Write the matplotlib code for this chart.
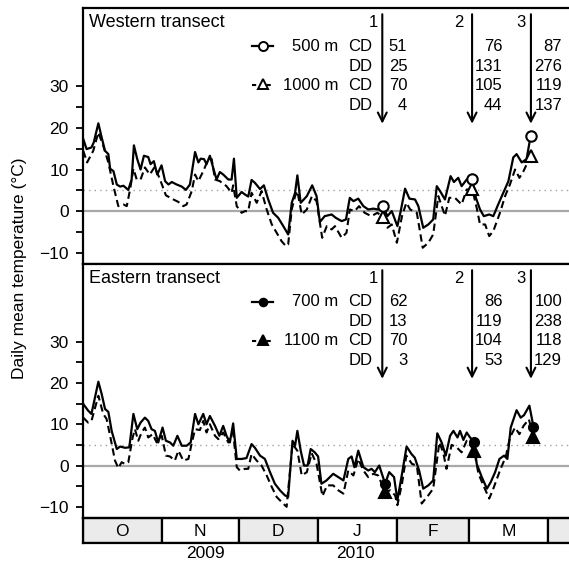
import numpy as np
import matplotlib
matplotlib.use('Agg')
import matplotlib.pyplot as plt
from matplotlib.patches import Rectangle

plt.rcParams['font.family'] = ['Liberation Sans', 'DejaVu Sans']

# days since 1 Oct 2009 and daily mean temperature (deg C)
w500_day = [0.3, 1.6, 3.5, 4.4, 6.2, 7.5, 8.8, 10.1, 10.8, 12.1, 13.4, 14.7, 16.0, 17.9, 19.2, 20.1, 21.4, 22.7,
            24.0, 25.7, 26.6, 27.9, 29.2, 30.9, 32.3, 33.6, 34.9, 36.8, 38.8, 40.4, 42.0, 44.0, 45.3, 46.2, 47.5,
            48.5, 49.8, 51.1, 52.4, 53.7, 55.0, 57.0, 58.3, 59.2, 60.3, 62.2, 63.5, 64.8, 66.1, 67.4, 69.4, 70.9,
            72.6, 74.5, 76.5, 78.5, 80.4, 81.8, 83.1, 84.0, 85.3, 87.7, 89.8, 91.5, 92.8, 94.7, 97.4, 99.0, 101.3,
            103.0, 104.5, 105.9, 107.8, 109.8, 111.7, 113.7, 115.6, 117.4, 119.2, 120.9, 123.1, 124.4, 126.1,
            127.8, 130.0, 131.3, 133.2, 135.2, 137.1, 138.5, 139.8, 141.7, 143.9, 145.2, 146.9, 148.2, 150.2,
            152.4, 153.8, 155.4, 156.9, 159.0, 160.6, 162.5, 164.5, 166.5, 168.4, 169.7, 171.7, 173.6, 175.2]
w500_temp = [17.3, 14.9, 15.3, 16.5, 21.1, 17.7, 14.5, 13.7, 10.2, 9.6, 6.4, 5.9, 6.1, 5.1, 7.6, 15.8, 12.5, 10.0,
             13.3, 13.0, 11.3, 12.0, 8.8, 11.0, 7.2, 6.4, 7.0, 6.4, 5.9, 5.1, 6.4, 14.2, 11.7, 12.6, 12.5,
             11.3, 13.3, 10.4, 7.6, 9.4, 8.8, 7.6, 7.6, 12.6, 3.2, 4.6, 4.0, 3.5, 7.5, 6.8, 5.3, 6.2,
             2.8, -0.4, -1.6, -3.6, -5.6, 2.0, 4.4, 8.6, 2.0, 3.6, 6.2, 3.6, -2.6, -1.2, -0.8, -1.6, -2.4,
             -2.0, 3.2, 2.4, 3.0, 1.2, 0.4, 0.6, 0.4, 1.2, -1.2, 0.0, -3.6, 0.0, 5.4,
             3.0, 2.8, 1.2, -4.0, -3.2, -2.0, 6.0, 4.8, 2.8, 8.4, 7.0, 8.0, 6.0, 7.6,
             7.8, 3.2, 0.4, -1.2, -0.8, -1.2, 1.6, 4.4, 7.2, 12.9, 13.7, 11.7, 12.5, 18.1]

w1000_day = [0.3, 1.8, 4.2, 6.2, 8.1, 10.1, 12.1, 14.0, 16.0, 17.3, 18.6, 19.9, 21.2, 22.7, 24.4, 26.3, 28.2, 30.2,
             32.6, 34.9, 37.5, 39.4, 40.7, 42.7, 44.0, 45.3, 47.2, 49.2, 50.5, 51.8, 53.7, 56.3, 58.3, 58.9,
             60.3, 62.2, 63.5, 64.8, 66.1, 68.1, 70.0, 72.0, 74.0, 75.9, 77.8, 79.5, 80.4, 81.8, 83.1, 84.0,
             85.7, 87.7, 89.7, 91.5, 93.7, 95.5, 97.4, 98.7, 101.3, 103.2, 104.5, 106.4, 108.1, 110.3, 112.9,
             115.3, 117.4, 119.2, 120.9, 122.9, 124.9, 126.6, 128.1, 130.7, 133.0, 135.2, 137.1, 139.1, 141.7,
             143.4, 145.6, 148.2, 150.2, 152.4, 154.1, 155.4, 157.4, 159.0, 160.6, 163.2, 165.2, 167.1, 169.1,
             170.8, 172.4, 175.2]
w1000_temp = [14.5, 11.7, 14.5, 18.9, 15.7, 11.7, 6.0, 1.2, 1.6, 1.2, 5.2, 10.2, 7.6, 7.6, 10.5, 8.8, 10.6, 7.8,
              3.8, 3.0, 2.2, 1.2, 1.6, 4.8, 8.8, 7.2, 9.6, 12.5, 12.5, 7.6, 7.2, 6.0, 4.4, 6.2,
              1.2, -0.4, 0.0, 0.0, 4.4, 2.0, 4.8, 0.4, -3.2, -5.2, -7.2, -8.4, -8.0, 0.4, 3.6, 4.8,
              -0.8, 0.4, 3.6, 2.4, -6.4, -3.6, -4.4, -3.6, -6.4, -5.2, 0.4, 0.0, 1.2, -0.4, -1.2,
              -0.4, -1.4, -4.0, -3.2, -7.6, -1.2, 2.0, 0.4, -0.4, -8.8, -7.6, -5.6, 3.6, -1.1,
              3.2, 3.2, 1.6, 5.2, 5.2, 0.8, -3.2, -3.2, -6.0, -4.8, -0.4, 3.6, 6.4, 10.0,
              8.0, 9.6, 13.3]

e700_day = [0.3, 2.2, 3.5, 6.2, 7.5, 8.8, 10.1, 11.4, 13.4, 14.7, 16.6, 18.3, 19.9, 21.4, 22.7, 24.4, 25.7, 27.0,
            28.3, 29.6, 31.3, 32.6, 34.2, 35.5, 37.1, 38.8, 40.7, 42.3, 44.0, 45.3, 47.2, 48.5, 49.8, 51.8,
            53.5, 55.0, 56.3, 57.6, 58.9, 60.3, 62.2, 64.1, 66.1, 67.4, 69.4, 71.3, 73.3, 75.2, 77.2, 79.1,
            80.4, 82.1, 83.1, 84.0, 85.3, 86.6, 88.0, 89.2, 90.8, 92.1, 93.4, 95.4, 98.0, 100.0, 102.0, 103.9,
            105.2, 106.3, 107.8, 109.8, 111.7, 113.0, 114.3, 116.0, 118.3, 119.9, 121.8, 123.1, 124.9, 126.7,
            128.6, 129.9, 131.6, 133.2, 135.2, 137.1, 138.7, 140.4, 142.0, 143.7, 145.0, 146.6, 147.6, 148.9,
            150.2, 151.5, 153.1, 154.1, 156.1, 158.1, 159.6, 161.3, 163.0, 164.8, 166.1, 167.4, 169.7, 171.3,
            172.6, 174.7, 176.3]
e700_temp = [14.9, 13.3, 12.5, 20.3, 17.3, 13.7, 13.0, 8.4, 4.0, 4.6, 4.3, 4.4, 12.5, 8.8, 10.4, 11.6, 10.8, 8.8,
             8.4, 5.6, 9.2, 6.0, 5.6, 4.8, 7.2, 4.8, 4.8, 5.6, 12.5, 10.0, 12.5, 10.0, 12.0, 9.6,
             7.2, 9.6, 7.2, 5.6, 10.2, 1.6, 1.6, 1.8, 5.2, 4.3, 2.4, 1.6, -1.6, -4.4, -6.0, -7.2,
             -7.6, 6.0, 4.8, 8.4, 3.6, 0.0, 0.0, 4.0, 3.2, 2.2, -4.4, -3.6, -2.0, -2.8, -3.6, 1.6,
             2.2, -0.4, 3.6, -0.4, -1.2, -0.8, -1.6, 0.0, -4.4, -1.6, -2.8, -8.4, -2.0, 4.6,
             2.8, 1.9, -1.2, -5.6, -4.8, -3.6, 7.8, 5.6, 2.4, 7.2, 8.4, 6.8, 8.4, 6.2,
             8.0, 6.8, 5.8, 0.4, -2.8, -5.6, -4.0, -1.6, 1.6, 2.4, 1.6, 9.2, 13.4, 11.6,
             12.2, 14.5, 9.4]

e1100_day = [0.3, 2.2, 3.5, 6.2, 8.1, 9.4, 10.8, 12.7, 14.0, 15.3, 16.6, 17.9, 19.6, 20.5, 21.8, 23.1, 24.4, 25.7,
             27.4, 29.0, 31.0, 32.6, 34.2, 36.1, 37.5, 39.4, 41.4, 42.7, 44.0, 45.9, 47.2, 48.5, 49.8, 51.8,
             53.1, 55.0, 57.0, 58.9, 60.3, 61.5, 63.5, 64.8, 66.1, 68.1, 70.0, 72.0, 74.0, 75.9, 77.8, 79.8,
             82.1, 84.0, 85.7, 87.7, 89.6, 91.5, 93.8, 95.6, 98.0, 100.0, 102.0, 103.9, 105.9, 107.8, 109.8,
             111.7, 113.7, 115.6, 118.3, 120.3, 122.2, 123.1, 124.9, 126.6, 128.8, 130.7, 132.6, 135.2, 137.1,
             139.5, 141.0, 142.3, 144.3, 146.3, 148.2, 150.2, 152.2, 153.1, 154.8, 156.7, 159.0, 160.6, 163.2,
             165.5, 167.1, 169.1, 170.8, 172.4, 174.5, 176.3]
e1100_temp = [11.6, 10.4, 10.8, 16.9, 12.5, 11.3, 7.2, 1.2, -0.6, 0.8, 0.4, 0.8, 6.8, 8.8, 6.0, 8.0, 9.2, 6.8,
              7.6, 5.6, 7.2, 2.4, 2.2, 1.2, 3.6, 1.2, 1.6, 5.4, 8.8, 8.6, 10.8, 8.0, 10.0, 7.2,
              6.4, 8.0, 5.6, 8.0, -0.4, -1.2, -0.8, -0.8, 2.8, 1.2, 0.0, -2.4, -5.2, -7.6, -8.8, -10.0,
              5.2, 3.6, -2.4, -1.6, 3.0, 0.4, -7.4, -4.8, -4.8, -6.0, -6.8, -1.2, -2.4, 1.6, -1.2,
              -2.8, -2.0, -2.4, -6.4, -6.0, -7.2, -9.6, -4.4, 2.4, 0.4, 0.0, -9.2, -7.2, -5.6,
              5.6, 3.2, -0.8, 5.0, 4.4, 3.2, 6.0, 4.4, 3.6, -2.0, -4.8, -8.0, -5.6, -1.2,
              2.2, 6.8, 9.2, 7.6, 9.6, 11.2, 7.0]

# sampling dates (arrows) and values at those dates
arrow_day = [117.2, 152.3, 175.3]
w_sample_day = [117.4, 152.4, 175.2]
w500_sample = [1.2, 7.8, 18.1]
w1000_sample = [-1.4, 5.2, 13.3]
e_sample_day = [118.3, 153.1, 176.3]
e700_sample = [-4.4, 5.8, 9.4]
e1100_sample = [-6.4, 3.6, 7.0]

# chilling / degree days table
w_sites = ['500 m', '1000 m']
e_sites = ['700 m', '1100 m']
w_table = [[51, 76, 87], [25, 131, 276], [70, 105, 119], [4, 44, 137]]
e_table = [[62, 86, 100], [13, 119, 238], [70, 104, 118], [3, 53, 129]]

months = ['O', 'N', 'D', 'J', 'F', 'M', '']
month_start = [0, 31, 61, 92, 123, 151, 182, 212]

W, H = 569, 574
fig = plt.figure(figsize=(W / 100, H / 100), dpi=100)
x0 = 82.5
xmax = (W - x0) / 2.558


def px_axes(top, bottom):
    return [x0 / W, 1 - bottom / H, 1 - x0 / W, (bottom - top) / H]


ax1 = fig.add_axes(px_axes(8, 264))
ax2 = fig.add_axes(px_axes(264, 518))
ax3 = fig.add_axes(px_axes(518, 543))

lw_sp = 1.6


def panel(ax, title, sites, table, d1, t1, d2, t2, sday, s1, s2, filled):
    ax.axhline(0, color='#a8a8a8', lw=1.6, zorder=1)
    ax.axhline(5, color='#a0a0a0', lw=1.0, ls=(0, (1, 3)), zorder=1)
    ax.plot(d1, t1, color='black', lw=1.6, zorder=3)
    ax.plot(d2, t2, color='black', lw=1.5, ls=(0, (3.5, 2)), zorder=3)
    fc = 'black' if filled else 'white'
    ms_c = 6.5 if filled else 7.5
    ax.plot(sday, s1, 'o', ms=ms_c, mfc=fc, mec='black', mew=1.5, zorder=5)
    ax.plot(sday, s2, '^', ms=9, mfc=fc, mec='black', mew=1.5, zorder=4)

    ax.set_xlim(0, xmax)
    ax.set_ylim(-12.7, 48.8)
    ax.set_yticks(np.arange(-10, 31, 5))
    ax.set_yticklabels(['\u221210', '', '0', '', '10', '', '20', '', '30'])
    ax.tick_params(axis='y', direction='out', length=5, width=1.3, labelsize=12.5, pad=5)
    ax.set_xticks([])
    for s in ['left', 'top', 'bottom']:
        ax.spines[s].set_linewidth(lw_sp)
    ax.spines['right'].set_visible(False)

    ax.text(2.5, 45.2, title, fontsize=13, va='center', ha='left')
    # arrows for the sampling dates
    lab_dx = [-1.6, -3.4, -2.0]
    for k, d in enumerate(arrow_day):
        ax.annotate('', xy=(d, 21.0), xytext=(d, 47.3),
                    arrowprops=dict(arrowstyle='->', lw=1.5, color='black', mutation_scale=16,
                                    shrinkA=0, shrinkB=0))
        ax.text(d + lab_dx[k], 45.2, str(k + 1), fontsize=12, ha='right', va='center')

    rows_y = [39.6, 34.8, 30.2, 25.4]
    kinds = ['CD', 'DD', 'CD', 'DD']
    col_x = [127.0, 164.2, 187.5]
    for r in range(4):
        ax.text(113.4, rows_y[r], kinds[r], fontsize=12, ha='right', va='center')
        for c in range(3):
            ax.text(col_x[c], rows_y[r], str(table[r][c]), fontsize=12, ha='right', va='center')
    ax.text(99.9, rows_y[0], sites[0], fontsize=12, ha='right', va='center')
    ax.text(99.9, rows_y[2], sites[1], fontsize=12, ha='right', va='center')
    # legend samples
    ax.plot([66.3, 74.5], [rows_y[0], rows_y[0]], color='black', lw=1.6, clip_on=False)
    ax.plot([70.4], [rows_y[0]], 'o', ms=ms_c - 1, mfc=fc, mec='black', mew=1.4)
    ax.plot([66.3, 74.5], [rows_y[2], rows_y[2]], color='black', lw=1.5, ls=(0, (2, 1.5)))
    ax.plot([70.4], [rows_y[2] + 0.3], '^', ms=7.5, mfc=fc, mec='black', mew=1.4)


panel(ax1, 'Western transect', w_sites, w_table, w500_day, w500_temp, w1000_day, w1000_temp,
      w_sample_day, w500_sample, w1000_sample, False)
panel(ax2, 'Eastern transect', e_sites, e_table, e700_day, e700_temp, e1100_day, e1100_temp,
      e_sample_day, e700_sample, e1100_sample, True)

# month strip
ax3.set_xlim(0, xmax)
ax3.set_ylim(0, 1)
for i in range(len(month_start) - 1):
    a, b = month_start[i], month_start[i + 1]
    fcol = '#ebebeb' if i % 2 == 0 else 'white'
    ax3.add_patch(Rectangle((a, 0), b - a, 1, facecolor=fcol, edgecolor='black', lw=lw_sp))
    if months[i]:
        ax3.text((a + b) / 2, 0.47, months[i], fontsize=12.5, ha='center', va='center')
ax3.set_xticks([])
ax3.set_yticks([])
for s in ['left', 'top', 'bottom']:
    ax3.spines[s].set_linewidth(lw_sp)
ax3.spines['right'].set_visible(False)

fig.text(205 / W, 1 - 554 / H, '2009', fontsize=12.5, ha='center', va='center')
fig.text(355 / W, 1 - 554 / H, '2010', fontsize=12.5, ha='center', va='center')
fig.text(20 / W, 1 - 268 / H, 'Daily mean temperature (\u00b0C)', fontsize=12.5, rotation=90,
         ha='center', va='center')

fig.savefig('out.png', dpi=100)
